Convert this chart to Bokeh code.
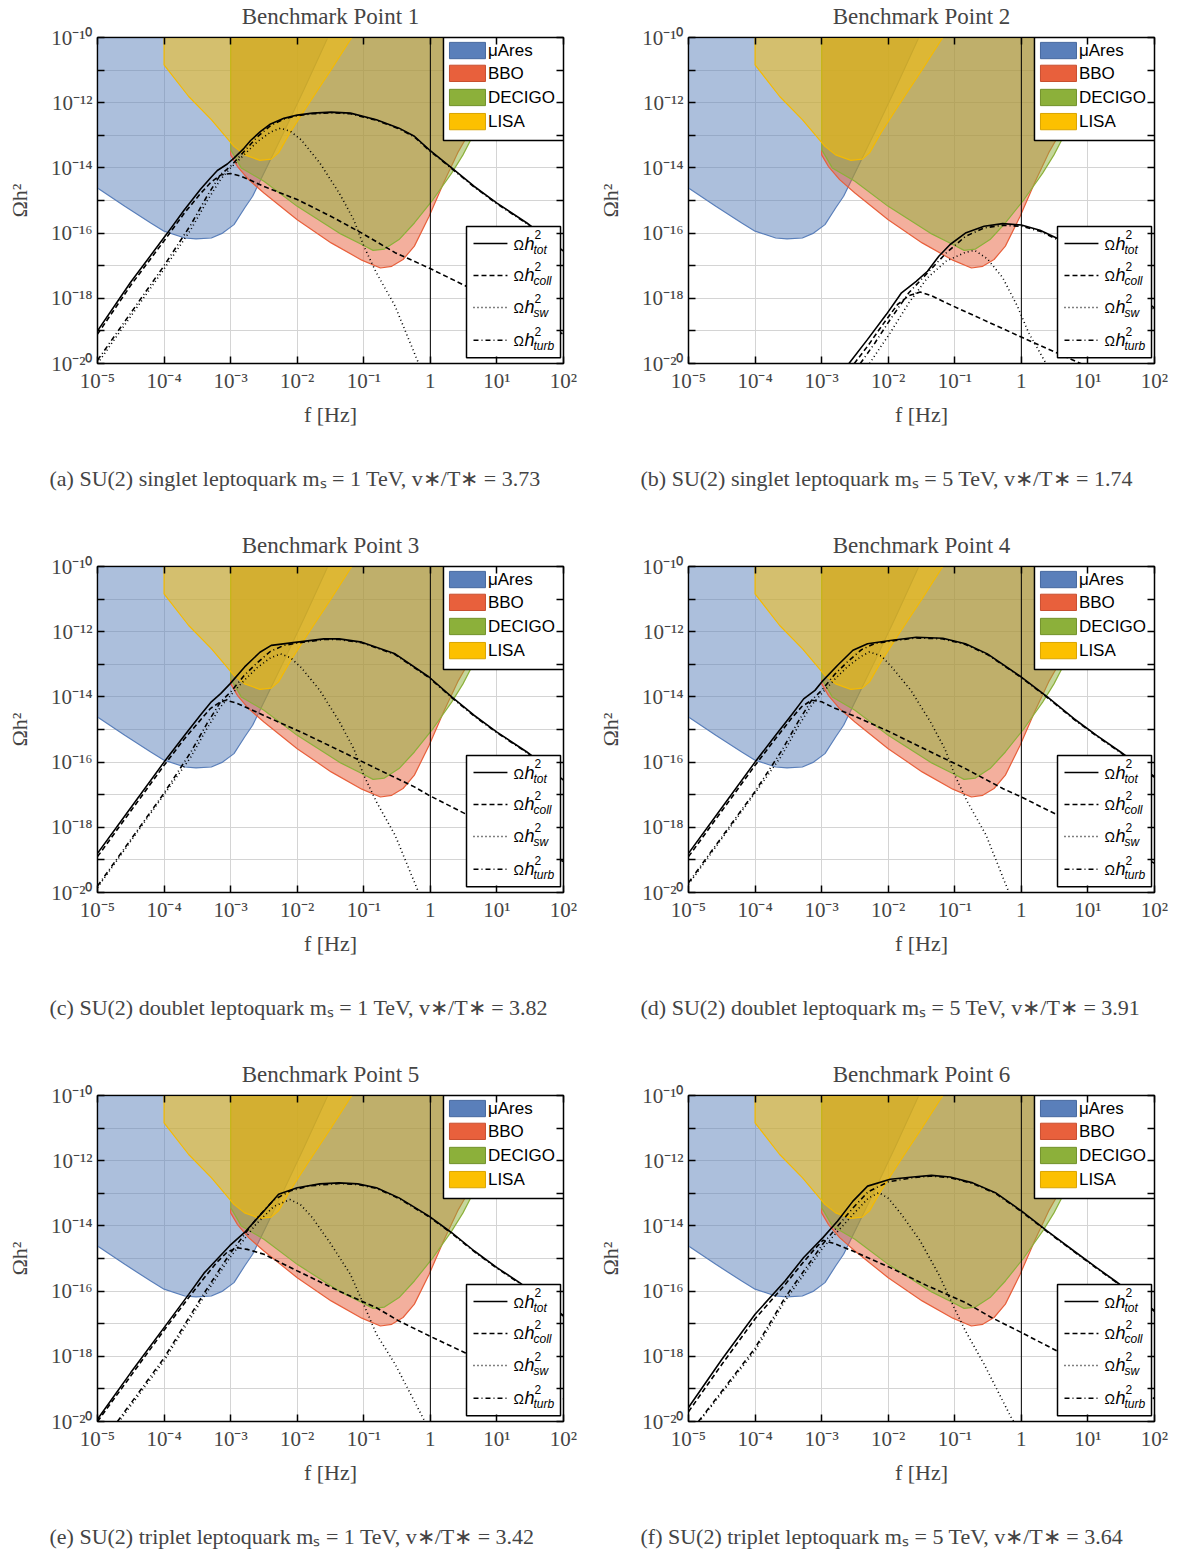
import numpy as np
from bokeh.plotting import figure
from bokeh.layouts import column, row
from bokeh.models import FixedTicker, Span, Title, LogAxis, Range1d, CustomJSTickFormatter
from bokeh.embed import file_html
from bokeh.resources import INLINE
from bokeh.core.properties import value

# ---------------- axes / ticks ----------------
x_tick_exps = [-5, -4, -3, -2, -1, 0, 1, 2]
x_tick_labels = ["10⁻⁵", "10⁻⁴", "10⁻³", "10⁻²", "10⁻¹", "1", "10¹", "10²"]
y_tick_exps = [-20, -19, -18, -17, -16, -15, -14, -13, -12, -11, -10]
y_tick_labels = ["10⁻²⁰", "", "10⁻¹⁸", "", "10⁻¹⁶", "", "10⁻¹⁴", "", "10⁻¹²", "", "10⁻¹⁰"]
ref_line_f = 1.0

titles = ["Benchmark Point 1", "Benchmark Point 2", "Benchmark Point 3",
          "Benchmark Point 4", "Benchmark Point 5", "Benchmark Point 6"]
captions = [
    "(a) SU(2) singlet leptoquark mₛ = 1 TeV, v∗/T∗ = 3.73",
    "(b) SU(2) singlet leptoquark mₛ = 5 TeV, v∗/T∗ = 1.74",
    "(c) SU(2) doublet leptoquark mₛ = 1 TeV, v∗/T∗ = 3.82",
    "(d) SU(2) doublet leptoquark mₛ = 5 TeV, v∗/T∗ = 3.91",
    "(e) SU(2) triplet leptoquark mₛ = 1 TeV, v∗/T∗ = 3.42",
    "(f) SU(2) triplet leptoquark mₛ = 5 TeV, v∗/T∗ = 3.64",
]

# ---------------- detector sensitivity regions (log10 f, log10 Omega h^2) ----------------
detector_names = ["μAres", "BBO", "DECIGO", "LISA"]
detector_fill = ["#5a7fba", "#e8603c", "#8cb03a", "#fcc000"]
detector_edge = ["#5a7fba", "#e8603c", "#8cb03a", "#f5ba00"]
detector_legend_edge = ["#46689f", "#c84f30", "#72922c", "#d9a400"]

mu_ares_poly = [(-5.6, -13.8), (-5.0, -14.62), (-4.59, -15.18), (-4.2, -15.69), (-4.0, -15.94),
                (-3.69, -16.15), (-3.52, -16.18), (-3.29, -16.15), (-3.12, -16.0), (-2.95, -15.74),
                (-2.79, -15.23), (-2.67, -14.87), (-2.56, -14.41), (-2.45, -13.95), (-2.2, -12.9),
                (-1.9, -11.6), (-1.54, -10.0), (-1.43, -9.5), (-5.6, -9.5)]
bbo_poly = [(-3.0, -9.5), (-3.0, -13.6), (-2.9, -13.95), (-2.73, -14.36), (-2.5, -14.77),
            (-2.0, -15.59), (-1.49, -16.3), (-1.03, -16.83), (-0.75, -17.07), (-0.58, -17.02),
            (-0.41, -16.81), (-0.24, -16.4), (-0.02, -15.49), (0.21, -14.41), (0.41, -13.54),
            (0.58, -12.93), (0.9, -11.6), (1.28, -10.0), (1.4, -9.5)]
decigo_poly = [(-3.0, -9.5), (-3.0, -13.44), (-2.84, -14.0), (-2.5, -14.41), (-2.0, -15.18),
               (-1.37, -16.0), (-1.03, -16.35), (-0.86, -16.53), (-0.69, -16.49), (-0.47, -16.2),
               (-0.24, -15.69), (0.04, -14.97), (0.32, -14.16), (0.49, -13.6), (0.66, -12.93),
               (1.0, -11.55), (1.38, -10.0), (1.5, -9.5)]
lisa_poly = [(-4.0, -9.5), (-4.0, -10.84), (-3.63, -11.81), (-3.29, -12.52), (-2.95, -13.34),
             (-2.79, -13.6), (-2.56, -13.77), (-2.39, -13.73), (-2.28, -13.54), (-2.11, -12.93),
             (-1.82, -12.01), (-1.49, -10.99), (-1.18, -10.0), (-1.03, -9.5)]
detector_polys = [mu_ares_poly, bbo_poly, decigo_poly, lisa_poly]

# ---------------- GW spectra (log10 f, log10 Omega h^2) ----------------
bp1_tot = [(-5.0, -19.0), (-4.5, -17.5), (-3.95, -16.0), (-3.7, -15.3), (-3.45, -14.65), (-3.3, -14.3),
           (-3.2, -14.08), (-3.05, -13.88), (-2.95, -13.7), (-2.8, -13.4), (-2.7, -13.16), (-2.55, -12.88),
           (-2.4, -12.65), (-2.2, -12.48), (-2.0, -12.38), (-1.77, -12.32), (-1.49, -12.29), (-1.2, -12.32),
           (-0.81, -12.52), (-0.47, -12.78), (-0.24, -13.03), (-0.02, -13.44), (0.32, -14.0), (0.66, -14.57),
           (1.0, -15.08), (1.45, -15.69), (2.0, -16.55)]
bp1_coll = [(-5.0, -19.1), (-4.5, -17.6), (-3.95, -16.1), (-3.7, -15.4), (-3.45, -14.78), (-3.3, -14.45),
            (-3.15, -14.22), (-3.0, -14.17), (-2.85, -14.25), (-2.7, -14.38), (-2.5, -14.57), (-2.0, -14.97),
            (-1.49, -15.49), (-1.03, -16.0), (-0.53, -16.6), (-0.02, -17.07), (0.49, -17.58), (1.0, -18.1),
            (2.0, -19.1)]
bp1_sw = [(-5.0, -20.0), (-4.0, -17.1), (-3.6, -15.9), (-3.35, -15.0), (-3.15, -14.35), (-3.0, -14.0),
          (-2.8, -13.6), (-2.6, -13.2), (-2.4, -12.9), (-2.25, -12.78), (-2.1, -12.88), (-1.94, -13.14),
          (-1.66, -13.85), (-1.37, -14.77), (-1.15, -15.59), (-1.0, -16.4), (-0.81, -17.22), (-0.53, -18.24),
          (-0.19, -19.93), (-0.1, -20.3)]
bp1_turb = [(-5.0, -19.9), (-4.0, -17.0), (-3.6, -15.75), (-3.35, -14.85), (-3.15, -14.2), (-3.0, -13.95),
            (-2.8, -13.5), (-2.6, -13.05), (-2.4, -12.7), (-2.2, -12.5), (-2.0, -12.4), (-1.77, -12.34),
            (-1.49, -12.31), (-1.2, -12.34), (-0.81, -12.54), (-0.47, -12.8), (-0.24, -13.05), (-0.02, -13.46),
            (0.32, -14.02), (0.66, -14.59), (1.0, -15.1), (1.45, -15.71), (2.0, -16.57)]

bp2_tot = [(-2.59, -20.0), (-2.31, -19.26), (-2.03, -18.5), (-1.8, -17.83), (-1.58, -17.48), (-1.41, -17.17),
           (-1.24, -16.71), (-1.07, -16.35), (-0.84, -16.0), (-0.56, -15.79), (-0.28, -15.71), (0.0, -15.75),
           (0.28, -15.91), (0.56, -16.18), (1.0, -16.7), (1.5, -17.5), (2.0, -18.3)]
bp2_coll = [(-2.51, -20.0), (-2.31, -19.47), (-2.08, -18.8), (-1.86, -18.19), (-1.69, -17.92), (-1.52, -17.81),
            (-1.35, -17.92), (-1.13, -18.14), (-0.56, -18.67), (0.0, -19.19), (0.53, -19.67), (1.0, -20.1)]
bp2_sw = [(-2.28, -20.0), (-2.14, -19.57), (-1.97, -19.06), (-1.69, -18.14), (-1.41, -17.37), (-1.13, -16.86),
          (-0.84, -16.59), (-0.7, -16.53), (-0.51, -16.79), (-0.28, -17.37), (-0.06, -18.24), (0.11, -19.06),
          (0.28, -19.67), (0.37, -20.0)]
bp2_turb = [(-2.42, -20.0), (-2.2, -19.37), (-1.97, -18.65), (-1.69, -17.83), (-1.41, -17.22), (-1.13, -16.61),
            (-0.84, -16.1), (-0.56, -15.84), (-0.28, -15.76), (0.0, -15.79), (0.28, -15.94), (0.56, -16.22),
            (1.0, -16.75), (1.5, -17.55), (2.0, -18.35)]

bp3_tot = [(-5.0, -18.8), (-4.5, -17.4), (-4.0, -16.0), (-3.7, -15.2), (-3.45, -14.55), (-3.29, -14.15),
           (-3.15, -13.9), (-3.01, -13.6), (-2.79, -13.08), (-2.56, -12.63), (-2.39, -12.42), (-2.0, -12.32),
           (-1.6, -12.22), (-1.37, -12.22), (-1.03, -12.32), (-0.53, -12.68), (-0.02, -13.39), (0.32, -14.0),
           (0.66, -14.57), (1.0, -15.08), (1.45, -15.69), (2.0, -16.55)]
bp3_coll = [(-5.0, -18.9), (-4.5, -17.5), (-4.0, -16.1), (-3.7, -15.3), (-3.45, -14.7), (-3.3, -14.35),
            (-3.15, -14.15), (-3.07, -14.1), (-2.9, -14.2), (-2.7, -14.38), (-2.5, -14.57), (-1.94, -15.08),
            (-1.37, -15.64), (-0.81, -16.2), (-0.24, -16.76), (-0.02, -17.02), (0.52, -17.58), (1.0, -18.05),
            (2.0, -19.05)]
bp3_sw = [(-5.0, -19.85), (-4.0, -17.0), (-3.6, -15.85), (-3.35, -14.95), (-3.15, -14.3), (-3.0, -13.95),
          (-2.8, -13.5), (-2.6, -13.1), (-2.4, -12.8), (-2.25, -12.68), (-2.1, -12.8), (-1.94, -13.1),
          (-1.66, -13.8), (-1.37, -14.75), (-1.15, -15.59), (-1.0, -16.4), (-0.81, -17.22), (-0.53, -18.24),
          (-0.19, -19.93), (-0.1, -20.3)]
bp3_turb = [(-5.0, -19.8), (-4.0, -16.95), (-3.6, -15.7), (-3.35, -14.8), (-3.15, -14.15), (-3.0, -13.85),
            (-2.8, -13.35), (-2.6, -12.95), (-2.4, -12.6), (-2.2, -12.42), (-2.0, -12.35), (-1.6, -12.24),
            (-1.37, -12.24), (-1.03, -12.34), (-0.53, -12.7), (-0.02, -13.41), (0.32, -14.02), (0.66, -14.59),
            (1.0, -15.1), (1.45, -15.71), (2.0, -16.57)]

bp4_tot = [(-5.0, -18.8), (-4.5, -17.4), (-4.0, -16.0), (-3.7, -15.2), (-3.45, -14.55), (-3.27, -14.06),
           (-3.1, -13.8), (-2.98, -13.5), (-2.76, -13.03), (-2.53, -12.57), (-2.31, -12.37), (-1.97, -12.27),
           (-1.58, -12.17), (-1.18, -12.2), (-0.84, -12.37), (-0.51, -12.68), (0.0, -13.39), (0.39, -14.0),
           (0.79, -14.67), (1.13, -15.18), (1.49, -15.69), (2.0, -16.45)]
bp4_coll = [(-5.0, -18.9), (-4.5, -17.5), (-4.0, -16.1), (-3.7, -15.3), (-3.45, -14.65), (-3.3, -14.3),
            (-3.15, -14.1), (-3.0, -14.15), (-2.8, -14.35), (-2.53, -14.57), (-1.97, -15.08), (-1.41, -15.64),
            (-0.84, -16.2), (-0.28, -16.81), (0.0, -17.07), (0.53, -17.61), (1.0, -18.1), (2.0, -19.1)]
bp4_sw = [(-5.0, -19.75), (-4.0, -16.95), (-3.6, -15.8), (-3.35, -14.9), (-3.15, -14.25), (-3.0, -13.9),
          (-2.8, -13.45), (-2.6, -13.05), (-2.4, -12.75), (-2.28, -12.62), (-2.1, -12.75), (-1.94, -13.1),
          (-1.66, -13.8), (-1.37, -14.75), (-1.15, -15.59), (-1.0, -16.4), (-0.81, -17.22), (-0.53, -18.24),
          (-0.2, -19.93), (-0.1, -20.3)]
bp4_turb = [(-5.0, -19.7), (-4.0, -16.9), (-3.6, -15.65), (-3.35, -14.75), (-3.15, -14.1), (-3.0, -13.8),
            (-2.8, -13.3), (-2.6, -12.9), (-2.4, -12.55), (-2.2, -12.36), (-1.97, -12.29), (-1.58, -12.19),
            (-1.18, -12.22), (-0.84, -12.39), (-0.51, -12.7), (0.0, -13.41), (0.39, -14.02), (0.79, -14.69),
            (1.13, -15.2), (1.49, -15.71), (2.0, -16.47)]

bp5_tot = [(-5.0, -19.93), (-4.5, -18.5), (-4.0, -17.12), (-3.63, -16.1), (-3.4, -15.45), (-3.18, -14.97),
           (-3.01, -14.6), (-2.9, -14.4), (-2.79, -14.2), (-2.5, -13.54), (-2.28, -13.03), (-2.0, -12.83),
           (-1.66, -12.71), (-1.37, -12.68), (-1.09, -12.71), (-0.81, -12.83), (-0.47, -13.14), (-0.02, -13.7),
           (0.32, -14.21), (0.66, -14.77), (1.0, -15.28), (1.34, -15.74), (2.0, -16.75)]
bp5_coll = [(-5.0, -20.0), (-4.5, -18.6), (-4.0, -17.2), (-3.63, -16.2), (-3.4, -15.6), (-3.2, -15.1),
            (-3.05, -14.8), (-2.9, -14.67), (-2.75, -14.72), (-2.5, -14.87), (-2.0, -15.38), (-1.37, -16.0),
            (-0.81, -16.51), (-0.47, -16.92), (-0.02, -17.37), (0.52, -17.89), (1.0, -18.35), (2.0, -19.3)]
bp5_sw = [(-4.65, -19.93), (-4.0, -18.14), (-3.41, -16.2), (-3.01, -14.97), (-2.62, -13.95), (-2.35, -13.4),
          (-2.11, -13.19), (-1.95, -13.35), (-1.77, -13.75), (-1.49, -14.57), (-1.2, -15.49), (-0.98, -16.51),
          (-0.81, -17.32), (-0.53, -18.24), (-0.1, -19.93), (0.0, -20.3)]
bp5_turb = [(-4.7, -20.0), (-4.0, -18.05), (-3.41, -16.1), (-3.01, -14.85), (-2.62, -13.8), (-2.35, -13.2),
            (-2.1, -12.92), (-1.8, -12.77), (-1.37, -12.7), (-1.09, -12.73), (-0.81, -12.85), (-0.47, -13.16),
            (-0.02, -13.72), (0.32, -14.23), (0.66, -14.79), (1.0, -15.3), (1.34, -15.76), (2.0, -16.77)]

bp6_tot = [(-5.0, -19.57), (-4.5, -18.1), (-4.0, -16.71), (-3.55, -15.69), (-3.27, -14.97), (-2.98, -14.36),
           (-2.76, -13.85), (-2.53, -13.24), (-2.31, -12.78), (-1.97, -12.57), (-1.63, -12.5), (-1.35, -12.45),
           (-1.07, -12.5), (-0.73, -12.68), (-0.39, -12.98), (0.0, -13.54), (0.39, -14.16), (0.79, -14.77),
           (1.13, -15.28), (1.41, -15.69), (2.0, -16.6)]
bp6_coll = [(-5.0, -19.7), (-4.5, -18.25), (-4.0, -16.85), (-3.55, -15.8), (-3.27, -15.1), (-3.1, -14.7),
            (-2.98, -14.44), (-2.8, -14.55), (-2.53, -14.77), (-1.97, -15.28), (-1.41, -15.84), (-0.84, -16.35),
            (-0.45, -16.81), (0.0, -17.27), (0.53, -17.83), (1.0, -18.3), (2.0, -19.3)]
bp6_sw = [(-4.81, -19.93), (-4.0, -17.83), (-3.55, -16.3), (-2.98, -14.67), (-2.53, -13.65), (-2.3, -13.15),
          (-2.14, -12.98), (-2.0, -13.15), (-1.8, -13.65), (-1.52, -14.46), (-1.24, -15.49), (-1.01, -16.51),
          (-0.84, -17.22), (-0.56, -18.24), (-0.14, -19.93), (0.0, -20.3)]
bp6_turb = [(-4.85, -20.0), (-4.0, -17.75), (-3.55, -16.2), (-2.98, -14.55), (-2.53, -13.45), (-2.3, -12.95),
            (-2.0, -12.65), (-1.63, -12.52), (-1.35, -12.47), (-1.07, -12.52), (-0.73, -12.7), (-0.39, -13.0),
            (0.0, -13.56), (0.39, -14.18), (0.79, -14.79), (1.13, -15.3), (1.41, -15.71), (2.0, -16.62)]

spectra = [
    (bp1_tot, bp1_coll, bp1_sw, bp1_turb),
    (bp2_tot, bp2_coll, bp2_sw, bp2_turb),
    (bp3_tot, bp3_coll, bp3_sw, bp3_turb),
    (bp4_tot, bp4_coll, bp4_sw, bp4_turb),
    (bp5_tot, bp5_coll, bp5_sw, bp5_turb),
    (bp6_tot, bp6_coll, bp6_sw, bp6_turb),
]
curve_dash = ["solid", "5 3", "1 3", "5 3 1 3"]
curve_sub = ["tot", "coll", "sw", "turb"]

SERIF = "Liberation Serif"
SANS = "Liberation Sans"


def lin(pts):
    a = np.asarray(pts, dtype=float)
    return (10.0 ** a[:, 0]).tolist(), (10.0 ** a[:, 1]).tolist()


def tick_fmt(exps, labels):
    return CustomJSTickFormatter(args=dict(exps=exps, labels=labels), code="""
        const e = Math.round(Math.log10(tick));
        const i = exps.indexOf(e);
        return i >= 0 ? labels[i] : "";
    """)


def bare_axis(ticker, tick_len):
    return LogAxis(ticker=ticker, formatter=tick_fmt([], []), major_tick_in=tick_len, major_tick_out=0,
                   major_tick_line_width=1.5, minor_tick_line_color=None,
                   major_label_text_font_size="0px", major_label_standoff=0)


def make_panel(k):
    right_col = (k % 2 == 1)
    last_row = (k >= 4)
    xticks = [10.0 ** e for e in x_tick_exps]
    yticks = [10.0 ** e for e in y_tick_exps]
    p = figure(x_axis_type="log", y_axis_type="log",
               x_range=Range1d(10.0 ** x_tick_exps[0], 10.0 ** x_tick_exps[-1]),
               y_range=Range1d(10.0 ** y_tick_exps[0], 10.0 ** y_tick_exps[-1]),
               frame_width=466, frame_height=326,
               min_border_left=97, min_border_right=(20 if right_col else 28),
               min_border_top=37, min_border_bottom=(126 if last_row else 166),
               output_backend="svg", toolbar_location=None)
    p.background_fill_color = "white"
    p.border_fill_color = "white"
    p.outline_line_color = "black"
    p.outline_line_width = 1.5

    xt = FixedTicker(ticks=xticks, minor_ticks=[])
    yt = FixedTicker(ticks=yticks, minor_ticks=[])
    for ax, t, fm in [(p.xaxis[0], xt, tick_fmt(x_tick_exps, x_tick_labels)),
                      (p.yaxis[0], yt, tick_fmt(y_tick_exps, y_tick_labels))]:
        ax.ticker = t
        ax.formatter = fm
        ax.major_tick_in = 7
        ax.major_tick_out = 0
        ax.major_tick_line_width = 1.5
        ax.minor_tick_line_color = None
        ax.axis_line_color = "black"
        ax.major_label_text_font = SERIF
        ax.major_label_text_font_size = "21px"
        ax.axis_label_text_font = SERIF
        ax.axis_label_text_font_size = "22px"
        ax.axis_label_text_font_style = "normal"
    p.xaxis[0].major_label_standoff = 5
    p.xaxis[0].axis_label = "f [Hz]"
    p.xaxis[0].axis_label_standoff = 6
    p.yaxis[0].major_label_standoff = 5
    p.yaxis[0].axis_label = "Ωh²"
    p.yaxis[0].axis_label_standoff = 16

    # top axis carries the panel title
    top_ax = bare_axis(xt, 7)
    top_ax.axis_label = titles[k]
    top_ax.axis_label_standoff = 9
    top_ax.axis_label_text_font = SERIF
    top_ax.axis_label_text_font_size = "23px"
    top_ax.axis_label_text_font_style = "normal"
    p.add_layout(top_ax, "above")
    p.add_layout(bare_axis(yt, 7), "right")

    # spacer below x axis, then caption
    spacer = bare_axis(xt, 0)
    spacer.axis_line_color = None
    spacer.major_tick_line_color = None
    spacer.axis_label = "\u00a0"
    spacer.axis_label_text_font_size = "1px"
    spacer.axis_label_standoff = 32
    p.add_layout(spacer, "below")
    cap = Title(text=captions[k], align="left", offset=-48, standoff=0, text_font=SERIF,
                text_font_size="22px", text_font_style="normal", vertical_align="top")
    p.add_layout(cap, "below")

    p.xgrid.ticker = xt
    p.ygrid.ticker = yt
    p.xgrid.grid_line_color = "#d4d4d4"
    p.ygrid.grid_line_color = "#d4d4d4"
    p.xgrid.grid_line_width = 1
    p.ygrid.grid_line_width = 1

    # detector regions
    for poly, fc, ec in zip(detector_polys, detector_fill, detector_edge):
        xs, ys = lin(poly)
        p.patch(xs, ys, fill_color=fc, fill_alpha=0.5, line_color=ec, line_width=1.2)

    p.add_layout(Span(location=ref_line_f, dimension="height", line_color="black", line_width=1))

    # spectra
    for pts, dash in zip(spectra[k], curve_dash):
        xs, ys = lin(pts)
        p.line(xs, ys, line_color="black", line_width=1.6, line_dash=dash)

    # detector legend
    p.quad(left=[10 ** 0.197], right=[10 ** 2.0], top=[10 ** -10.0], bottom=[10 ** -13.16],
           fill_color="white", line_color="black", line_width=1.5)
    rows = [-10.40, -11.10, -11.84, -12.58]
    for c, name, fc, ec in zip(rows, detector_names, detector_fill, detector_legend_edge):
        p.quad(left=[10 ** 0.287], right=[10 ** 0.828], top=[10 ** (c + 0.25)], bottom=[10 ** (c - 0.25)],
               fill_color=fc, line_color=ec, line_width=1)
        p.text(x=[10 ** 0.865], y=[10 ** c], text=[name], text_font=value(SANS), text_font_size="17px",
               text_baseline="middle", text_align="left", text_color="black")

    # curves legend
    p.quad(left=[10 ** 0.543], right=[10 ** 1.955], top=[10 ** -15.80], bottom=[10 ** -19.82],
           fill_color="white", line_color="black", line_width=1.5)
    crow = [-16.32, -17.30, -18.28, -19.29]
    for c, dash, sub in zip(crow, curve_dash, curve_sub):
        p.line([10 ** 0.648, 10 ** 1.158], [10 ** c, 10 ** c], line_color="black", line_width=1.5,
               line_dash=dash)
        ax_ = [10 ** 1.249]
        ay_ = [10 ** c]
        p.text(x=ax_, y=ay_, text=["Ω"], text_font=value(SANS), text_font_size="14px",
               text_baseline="middle", text_align="left", text_color="black", y_offset=1)
        p.text(x=ax_, y=ay_, text=["h"], text_font=value(SANS), text_font_size="18px",
               text_font_style="italic", text_baseline="middle", text_align="left", text_color="black",
               x_offset=11, y_offset=0)
        p.text(x=ax_, y=ay_, text=["2"], text_font=value(SANS), text_font_size="12px",
               text_baseline="middle", text_align="left", text_color="black", x_offset=21, y_offset=-9)
        p.text(x=ax_, y=ay_, text=[sub], text_font=value(SANS), text_font_size="12px",
               text_font_style="italic", text_baseline="middle", text_align="left", text_color="black",
               x_offset=20, y_offset=6)
    return p


panels = [make_panel(k) for k in range(6)]
layout = column(row(panels[0], panels[1]), row(panels[2], panels[3]), row(panels[4], panels[5]))
open("out.html", "w").write(file_html(layout, INLINE))
